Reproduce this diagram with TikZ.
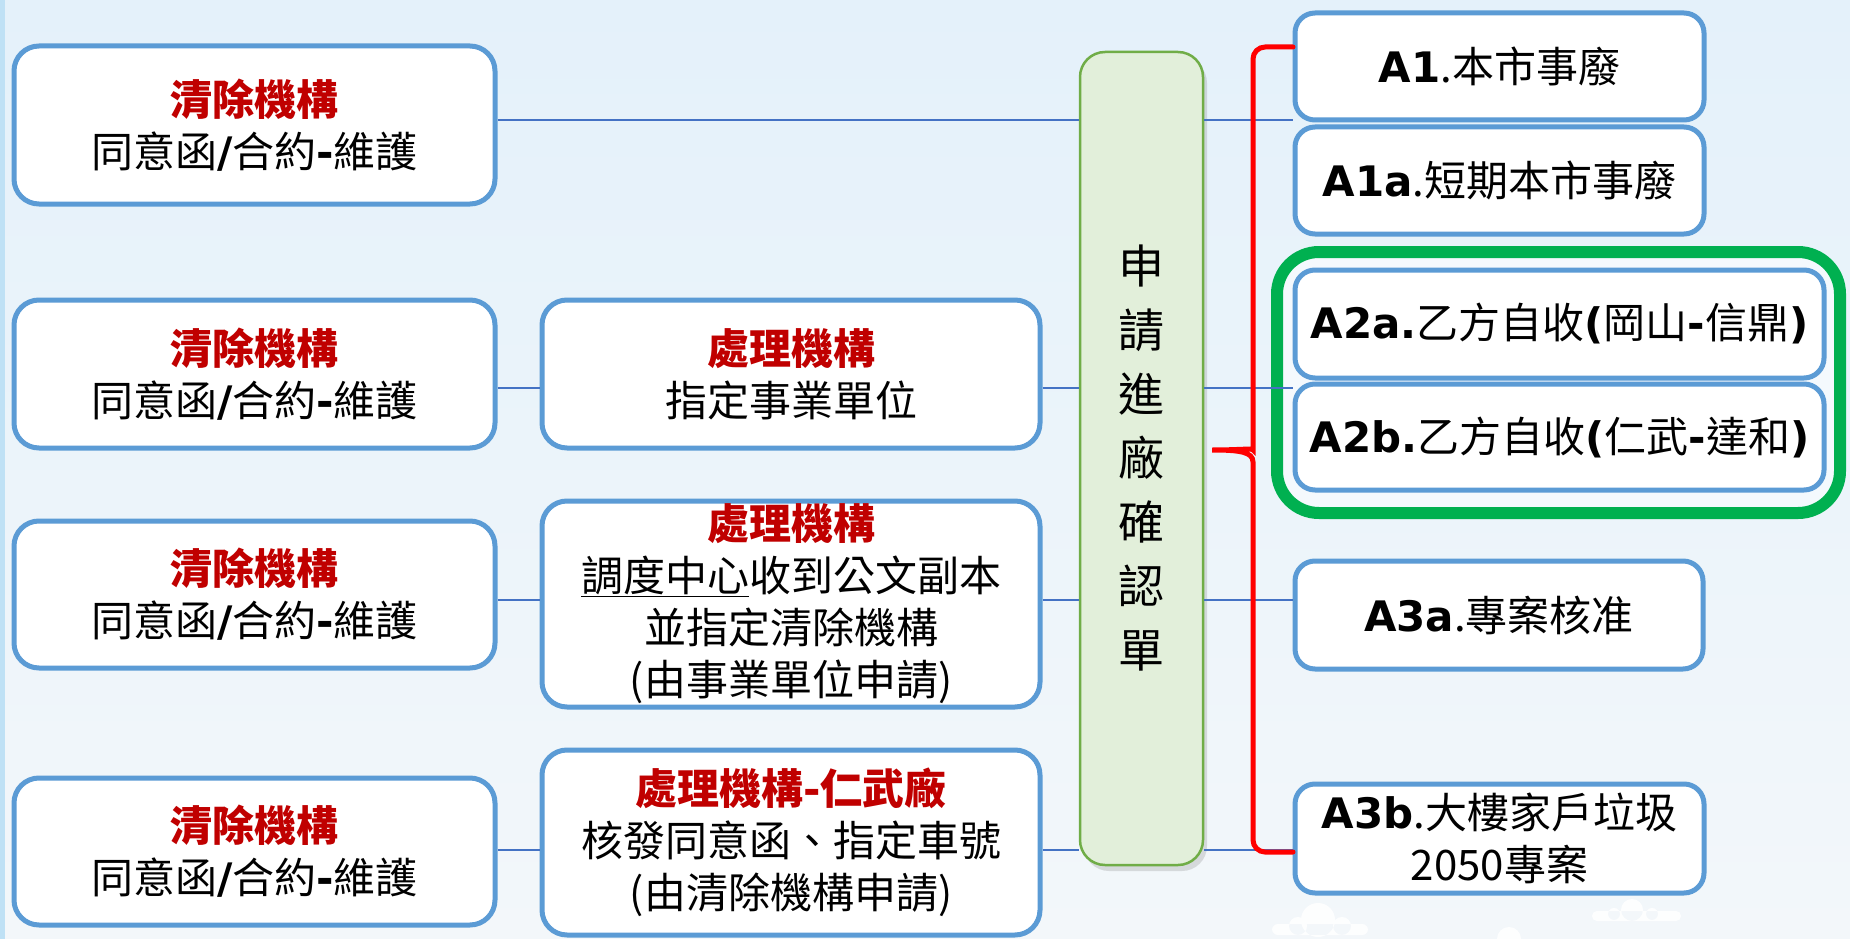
\documentclass[tikz,border=0pt]{standalone}
\usepackage{fontspec}
\setmainfont{Noto Sans CJK TC}
\newfontfamily\latf{DejaVu Sans}
\usetikzlibrary{shadows,calc}
\definecolor{boxblue}{HTML}{5B9BD5}
\definecolor{connblue}{HTML}{4472C4}
\definecolor{titred}{HTML}{C00000}
\definecolor{gfill}{HTML}{E2EFDA}
\definecolor{gdraw}{HTML}{70AD47}
\definecolor{hlgreen}{HTML}{00B050}
\definecolor{bgtop}{HTML}{E4F1FA}
\definecolor{bgbot}{HTML}{F3F7FA}
\definecolor{stripblue}{HTML}{BFE1F5}
\newcommand{\Lb}[1]{{\latf\bfseries #1}}
\newcommand{\Ttl}[1]{{\bfseries\color{titred}#1}}
\begin{document}
\begin{tikzpicture}[x=1pt,y=-1pt,
  box/.style={draw=boxblue,line width=5pt,fill=white,rounded corners=25pt,align=center,
    inner sep=0pt,font=\fontsize{42}{52}\selectfont},
  abox/.style={draw=boxblue,line width=5pt,fill=white,rounded corners=20pt,align=center,
    inner sep=0pt,font=\fontsize{42}{52}\selectfont},
  gbox/.style={draw=gdraw,line width=2.5pt,fill=gfill,rounded corners=25pt,align=center,
    inner sep=0pt,font=\fontsize{46}{64}\selectfont,
    drop shadow={shadow xshift=4pt,shadow yshift=-6pt,opacity=0.25}},
  hlbox/.style={draw=hlgreen,line width=12pt,fill=white!60!bgtop,rounded corners=42pt,inner sep=0pt},
  conn/.style={draw=connblue,line width=1.6pt},
  brace/.style={draw=red,line width=5pt,line cap=round},
  cloud/.style={fill=white,opacity=0.9}]
\useasboundingbox (0,0) rectangle (1850,939);
\shade[top color=bgtop,bottom color=bgbot] (0,0) rectangle (1850,939);
\fill[stripblue] (0,0) rectangle (5,939);

% faint clouds
\fill[cloud] (1318,920) circle (17) (1298,926) circle (9) (1342,926) circle (9)
  [rounded corners=6pt] (1272,924) rectangle (1368,935);
\fill[cloud] (1632,910) circle (11) (1614,914) circle (6) (1652,914) circle (6)
  [rounded corners=5pt] (1592,911) rectangle (1681,921);
\fill[cloud] (1509,939) circle (12);

% row coordinates
\coordinate (r1) at (0,120);
\coordinate (r2) at (0,388);
\coordinate (r3) at (0,600);
\coordinate (r4) at (0,850);

% left column
\node[box,minimum width=481pt,minimum height=158pt] (L1) at (254.5,125) {\Ttl{清除機構}\\同意函\Lb{/}合約\Lb{-}維護};
\node[box,minimum width=481pt,minimum height=148pt] (L2) at (254.5,374) {\Ttl{清除機構}\\同意函\Lb{/}合約\Lb{-}維護};
\node[box,minimum width=481pt,minimum height=147pt] (L3) at (254.5,594.5) {\Ttl{清除機構}\\同意函\Lb{/}合約\Lb{-}維護};
\node[box,minimum width=481pt,minimum height=147pt] (L4) at (254.5,851.5) {\Ttl{清除機構}\\同意函\Lb{/}合約\Lb{-}維護};

% middle column
\node[box,minimum width=498pt,minimum height=148pt] (M2) at (791,374) {\Ttl{處理機構}\\指定事業單位};
\node[box,minimum width=498pt,minimum height=206pt] (M3) at (791,604) {\Ttl{處理機構}\\\underline{調度中心}收到公文副本\\並指定清除機構\\(由事業單位申請)};
\node[box,minimum width=498pt,minimum height=185pt] (M4) at (791,842.5) {\Ttl{處理機構\Lb{-}仁武廠}\\核發同意函、指定車號\\(由清除機構申請)};

% center
\node[gbox,minimum width=123pt,minimum height=813pt] (G) at (1141.5,458.5) {申\\請\\進\\廠\\確\\認\\單};

% highlight
\node[hlbox,minimum width=563pt,minimum height=261pt] (HL) at (1558.5,382.5) {};

% right column
\node[abox,minimum width=409pt,minimum height=107pt] (A1) at (1499.5,66.5) {\Lb{A1}.本市事廢};
\node[abox,minimum width=409pt,minimum height=107pt] (A1a) at (1499.5,180.5) {\Lb{A1a}.短期本市事廢};
\node[abox,minimum width=529pt,minimum height=108pt] (A2a) at (1559.5,324) {\Lb{A2a.}乙方自收\Lb{(}岡山\Lb{-}信鼎\Lb{)}};
\node[abox,minimum width=529pt,minimum height=106pt] (A2b) at (1559.5,437) {\Lb{A2b.}乙方自收\Lb{(}仁武\Lb{-}達和\Lb{)}};
\node[abox,minimum width=408pt,minimum height=108pt] (A3a) at (1499,615) {\Lb{A3a}.專案核准};
\node[abox,minimum width=409pt,minimum height=109pt] (A3b) at (1499.5,838.5) {\Lb{A3b}.大樓家戶垃圾\\2050專案};

% connectors
\draw[conn] (L1.east |- r1) -- (G.west |- r1);
\draw[conn] (G.east |- r1) -- (A1.west |- r1);
\draw[conn] (L2.east |- r2) -- (M2.west |- r2);
\draw[conn] (M2.east |- r2) -- (G.west |- r2);
\draw[conn] (G.east |- r2) -- (A2a.west |- r2);
\draw[conn] (L3.east |- r3) -- (M3.west |- r3);
\draw[conn] (M3.east |- r3) -- (G.west |- r3);
\draw[conn] (G.east |- r3) -- (A3a.west |- r3);
\draw[conn] (L4.east |- r4) -- (M4.west |- r4);
\draw[conn] (M4.east |- r4) -- (G.west |- r4);
\draw[conn] (G.east |- r4) -- (A3b.west |- r4);

% brace
\coordinate (bt) at (1293,47);
\coordinate (bb) at (1293,852);
\coordinate (tip) at (1212,450);
\draw[brace] (bt) [rounded corners=12pt] -| (1253,438) [sharp corners]
  .. controls (1253,448) and (1240,450) .. (tip)
  .. controls (1240,450) and (1253,452) .. (1253,462)
  [rounded corners=12pt] |- (bb);
\end{tikzpicture}
\end{document}
